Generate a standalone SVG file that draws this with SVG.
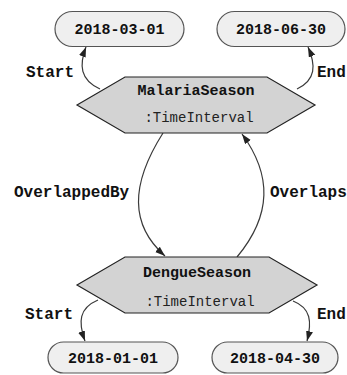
<svg xmlns="http://www.w3.org/2000/svg" width="347" height="375" viewBox="0 0 347 375">
  <style>
    .date rect { fill: #efefef; stroke: #555555; stroke-width: 1.2; }
    .date text { font-family: "Liberation Mono", "DejaVu Sans Mono", monospace; font-weight: bold; font-size: 15px; fill: #111111; text-anchor: middle; }
    .season polygon { fill: #d3d3d3; stroke: #222222; stroke-width: 1.2; }
    .season .name { font-family: "Liberation Mono", "DejaVu Sans Mono", monospace; font-weight: bold; font-size: 15px; fill: #111111; text-anchor: middle; }
    .season .type { font-family: "Liberation Mono", "DejaVu Sans Mono", monospace; font-size: 14px; fill: #222222; text-anchor: middle; }
    .edge path { fill: none; stroke: #3a3a3a; stroke-width: 1.2; marker-end: url(#arrow); }
    .edge text { font-family: "Liberation Mono", "DejaVu Sans Mono", monospace; font-weight: bold; font-size: 16px; fill: #111111; }
  </style>
  <defs>
    <marker id="arrow" markerUnits="userSpaceOnUse" markerWidth="10" markerHeight="8" refX="10" refY="3.5" orient="auto">
      <path d="M0,0 L10,3.5 L0,7 z" fill="#222222"/>
    </marker>
  </defs>
  <rect width="347" height="375" fill="#ffffff"/>

  <!-- connectors -->
  <g id="edges" class="edge">
    <path d="M100,89 C80,80 79,65 86,47"/>
    <text x="26" y="77">Start</text>
    <path d="M297,89 C316,80 316,65 308,47"/>
    <text x="317" y="77">End</text>
    <path d="M163,133 C130,185 130,225 165,256"/>
    <text x="14" y="197">OverlappedBy</text>
    <path d="M237,257 C272,215 272,175 242,134"/>
    <text x="270" y="197">Overlaps</text>
    <path d="M98,300 C79,308 78,322 85,341"/>
    <text x="25" y="319">Start</text>
    <path d="M293,301 C311,308 312,322 307,341"/>
    <text x="317" y="319">End</text>
  </g>

  <!-- interval start/end dates -->
  <g id="malaria-start" class="date">
    <rect x="55" y="11.5" width="129" height="35" rx="17.5"/>
    <text x="119.5" y="34">2018-03-01</text>
  </g>
  <g id="malaria-end" class="date">
    <rect x="217" y="11.5" width="128" height="35" rx="17.5"/>
    <text x="281" y="34">2018-06-30</text>
  </g>
  <g id="dengue-start" class="date">
    <rect x="48" y="342" width="130" height="31" rx="15.5"/>
    <text x="113" y="363">2018-01-01</text>
  </g>
  <g id="dengue-end" class="date">
    <rect x="212" y="342" width="126" height="31" rx="15.5"/>
    <text x="275" y="363">2018-04-30</text>
  </g>

  <!-- time intervals -->
  <g id="malaria-season" class="season">
    <polygon points="77,105 125,77 267,77 315,105 267,133 125,133"/>
    <text class="name" x="196" y="95">MalariaSeason</text>
    <text class="type" x="199" y="122">:TimeInterval</text>
  </g>
  <g id="dengue-season" class="season">
    <polygon points="77,285 125,257 269,257 317,285 269,313 125,313"/>
    <text class="name" x="197" y="277">DengueSeason</text>
    <text class="type" x="200" y="306">:TimeInterval</text>
  </g>
</svg>
